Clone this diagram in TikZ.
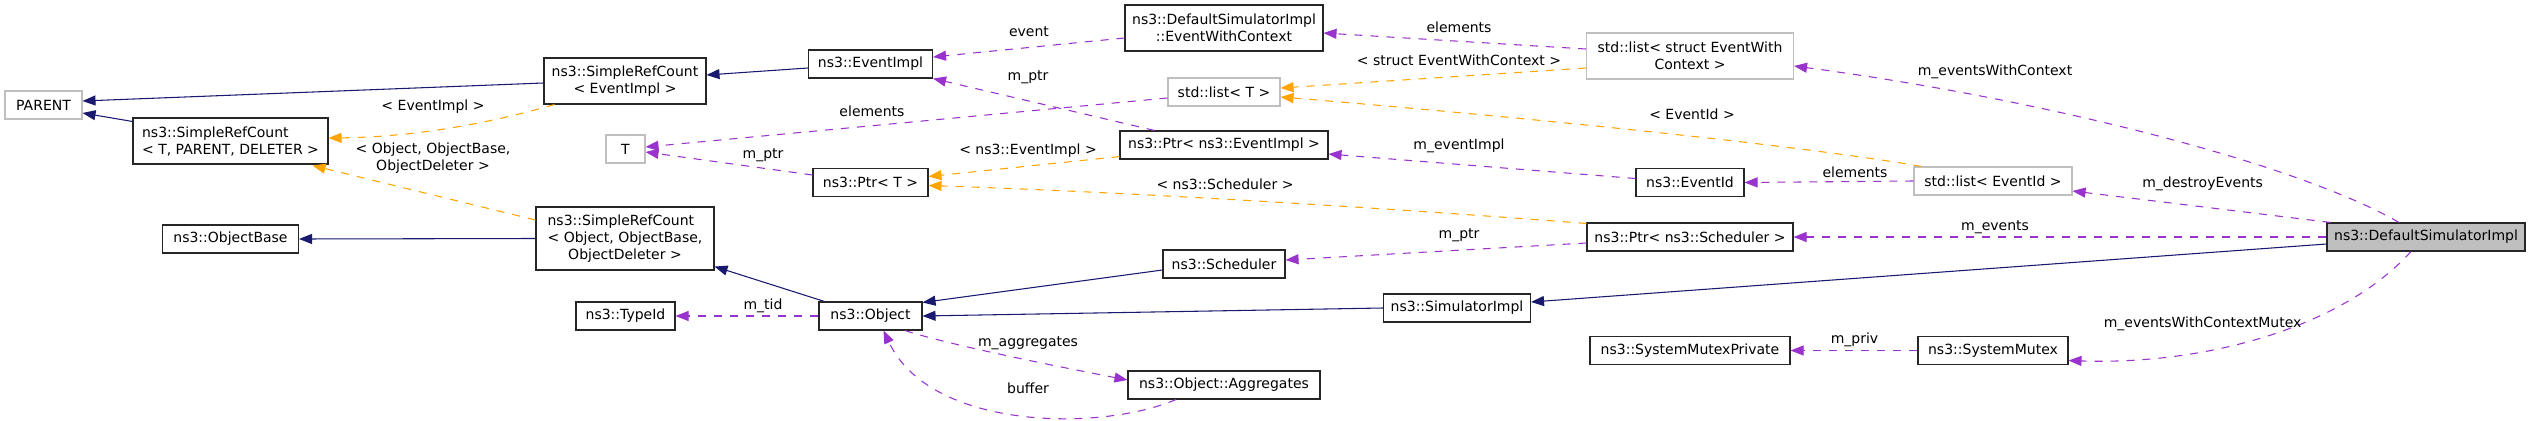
\documentclass[tikz,border=0pt]{standalone}
\usepackage{fontspec}
\setmainfont{DejaVu Sans}
\usetikzlibrary{arrows.meta,calc}
\definecolor{navyc}{HTML}{191970}
\definecolor{purpc}{HTML}{9A32CD}
\definecolor{orngc}{HTML}{FFA500}
\definecolor{grayb}{HTML}{BFBFBF}
\begin{document}
\begin{tikzpicture}[x=0.75pt,y=-0.75pt,
  every node/.style={font=\fontsize{10.5pt}{12.75pt}\selectfont},
  box/.style={draw=black!85, line width=0.8pt, inner sep=0pt, align=center, minimum height=21pt},
  gbox/.style={box, draw=grayb},
  lbl/.style={inner sep=0pt, align=center},
  tip/.style={-{Triangle[length=9.75pt,width=7.5pt]}},
  inh/.style={draw=navyc, line width=0.8pt, tip},
  use/.style={draw=purpc, line width=0.8pt, dash pattern=on 6pt off 6pt, tip},
  tmpl/.style={draw=orngc, line width=0.8pt, dash pattern=on 6pt off 6pt, tip}]
\useasboundingbox (0,0) rectangle (2531,421);
% nodes
\node[gbox, minimum width=57.75pt] (parent) at (43.5,105) {PARENT};
\node[box, minimum width=146.25pt, minimum height=34.5pt] (srcTPD) at (230.5,141)
  {\rlap{ns3::SimpleRefCount}\phantom{< T, PARENT, DELETER >}\\< T, PARENT, DELETER >};
\node[box, minimum width=102pt] (objbase) at (230.5,239) {ns3::ObjectBase};
\node[box, minimum width=121.5pt, minimum height=34.5pt] (srcEI) at (625,81) {ns3::SimpleRefCount\\< EventImpl >};
\node[box, minimum width=133.5pt, minimum height=47.25pt] (srcObj) at (625,238.5)
  {\rlap{ns3::SimpleRefCount}\phantom{< Object, ObjectBase,}\\< Object, ObjectBase,\\ObjectDeleter >};
\node[gbox, minimum width=29.25pt] (T) at (625.5,149) {T};
\node[box, minimum width=74.25pt] (typeid) at (625.5,316) {ns3::TypeId};
\node[box, minimum width=93pt] (eventimpl) at (870.5,64) {ns3::EventImpl};
\node[box, minimum width=86.25pt] (ptrT) at (870.5,182.5) {ns3::Ptr< T >};
\node[box, minimum width=77.25pt] (object) at (870.5,316) {ns3::Object};
\node[box, minimum width=148.5pt, minimum height=34.5pt] (ewc) at (1224,28) {ns3::DefaultSimulatorImpl\\::EventWithContext};
\node[gbox, minimum width=84pt] (listT) at (1224,92) {std::list< T >};
\node[box, minimum width=156pt] (ptrEI) at (1224,145) {ns3::Ptr< ns3::EventImpl >};
\node[box, minimum width=91.5pt] (scheduler) at (1224,264) {ns3::Scheduler};
\node[box, minimum width=144pt] (aggregates) at (1224,385) {ns3::Object::Aggregates};
\node[box, minimum width=110.25pt] (simimpl) at (1457,308) {ns3::SimulatorImpl};
\node[gbox, minimum width=155.25pt, minimum height=34.5pt] (listEWC) at (1690,56) {std::list< struct EventWith\\Context >};
\node[box, minimum width=81pt] (eventid) at (1690,182.5) {ns3::EventId};
\node[box, minimum width=154.5pt] (ptrSched) at (1690,237) {ns3::Ptr< ns3::Scheduler >};
\node[box, minimum width=150pt] (smp) at (1690,350.5) {ns3::SystemMutexPrivate};
\node[gbox, minimum width=118.5pt] (listEI) at (1993,181) {std::list< EventId >};
\node[box, minimum width=112.5pt] (sysmutex) at (1993,350.5) {ns3::SystemMutex};
\node[box, minimum width=148.5pt, fill=grayb] (dsi) at (2426,237) {ns3::DefaultSimulatorImpl};
% inheritance
\draw[inh] ($(srcEI.west)+(0,2)$) -- ($(parent.east)+(0,-4)$);
\draw[inh] ($(srcTPD.north west)+(0,4)$) -- ($(parent.east)+(0,8)$);
\draw[inh] ($(eventimpl.west)+(0,4)$) -- ($(srcEI.east)+(0,-6)$);
\draw[inh] (srcObj.west) -- (objbase.east);
\draw[inh] ($(object.north west)+(6,0)$) -- ($(srcObj.south east)+(0,-4)$);
\draw[inh] ($(scheduler.west)+(0,6)$) -- ($(object.north east)+(0,1)$);
\draw[inh] (simimpl.west) -- (object.east);
\draw[inh] ($(dsi.west)+(0,7)$) -- ($(simimpl.east)+(0,-6)$);
% template instances
\draw[tmpl] ($(srcEI.south west)+(11,0)$) .. controls (494,122) and (418,137) .. ($(srcTPD.east)+(0,-3)$);
\node[lbl] (l1) at (433,107) {< EventImpl >};
\draw[tmpl] ($(srcObj.west)+(0,-18.5)$) -- ($(srcTPD.south east)+(-16,1)$);
\node[lbl] (l2) at (433,158.5) {< Object, ObjectBase,\\ObjectDeleter >};
\draw[tmpl] ($(ptrEI.south west)+(0,-3)$) -- ($(ptrT.east)+(0,-6)$);
\node[lbl] (l3) at (1028,151) {< ns3::EventImpl >};
\draw[tmpl] ($(ptrSched.north west)+(0,1)$) .. controls (1400,209) and (1150,193) .. ($(ptrT.east)+(0,3)$);
\node[lbl] (l4) at (1225,184) {< ns3::Scheduler >};
\draw[tmpl] ($(listEWC.west)+(0,12)$) -- ($(listT.east)+(0,-4)$);
\node[lbl] (l5) at (1459,60) {< struct EventWithContext >};
\draw[tmpl] ($(listEI.north west)+(8,0)$) .. controls (1800,145) and (1500,115) .. ($(listT.east)+(0,5)$);
\node[lbl] (l6) at (1692,114) {< EventId >};
% usage
\draw[use] ($(ewc.west)+(0,10)$) -- ($(eventimpl.east)+(0,-7)$);
\node[lbl] (l7) at (1029,32) {event};
\draw[use] ($(ptrEI.north west)+(35,0)$) -- (eventimpl.south east);
\node[lbl] (l8) at (1028,77) {m\_ptr};
\draw[use] ($(listT.west)+(0,6)$) -- ($(T.east)+(0,-2)$);
\node[lbl] (l9) at (872,111) {elements};
\draw[use] ($(ptrT.west)+(0,-7.5)$) -- ($(T.east)+(0,3)$);
\node[lbl] (l10) at (763,155) {m\_ptr};
\draw[use] (object.west) -- (typeid.east);
\node[lbl] (l11) at (763,306) {m\_tid};
\draw[use] ($(object.south)+(34.5,0)$) .. controls (950,345) and (1050,365) .. ($(aggregates.west)+(0,-5)$);
\node[lbl] (l12) at (1028,343) {m\_aggregates};
\draw[use] ($(aggregates.south)+(-48,0)$) .. controls (1100,432) and (930,430) .. ($(object.south)+(13,0)$);
\node[lbl] (l13) at (1028,388) {buffer};
\draw[use] ($(listEWC.west)+(0,-7)$) -- ($(ewc.east)+(0,5)$);
\node[lbl] (l14) at (1459,27) {elements};
\draw[use] ($(eventid.west)+(0,-4)$) -- ($(ptrEI.east)+(0,9)$);
\node[lbl] (l15) at (1459,146) {m\_eventImpl};
\draw[use] ($(ptrSched.west)+(0,6)$) -- ($(scheduler.east)+(0,-4)$);
\node[lbl] (l16) at (1459,235) {m\_ptr};
\draw[use] (listEI.west) -- (eventid.east);
\node[lbl] (l17) at (1855,172) {elements};
\draw[use] (sysmutex.west) -- (smp.east);
\node[lbl] (l18) at (1854.5,340) {m\_priv};
\draw[use] ($(dsi.north)+(-27,0)$) .. controls (2300,165) and (2050,100) .. ($(listEWC.east)+(0,10)$);
\node[lbl] (l19) at (1995,72) {m\_eventsWithContext};
\draw[use] ($(dsi.north west)+(4,0)$) -- ($(listEI.east)+(0,10)$);
\node[lbl] (l20) at (2202.6,184) {m\_destroyEvents};
\draw[use] (dsi.west) -- (ptrSched.east);
\node[lbl] (l21) at (1995,227) {m\_events};
\draw[use] ($(dsi.south)+(-15,0)$) .. controls (2340,330) and (2200,365) .. ($(sysmutex.east)+(0,10)$);
\node[lbl] (l22) at (2202.6,324) {m\_eventsWithContextMutex};
\end{tikzpicture}
\end{document}
